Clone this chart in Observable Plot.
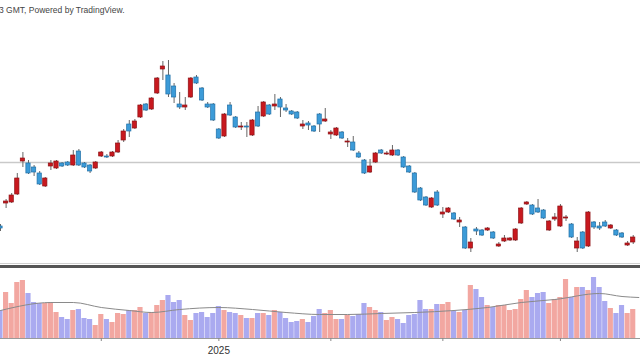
<!DOCTYPE html>
<html>
<head>
<meta charset="utf-8">
<script src="https://cdn.jsdelivr.net/npm/d3@7"></script>
<script src="https://cdn.jsdelivr.net/npm/@observablehq/plot@0.6"></script>
<style>
  html, body { margin: 0; padding: 0; background: #fff; }
  #wrap { position: relative; width: 640px; height: 360px; overflow: hidden; background: #fff; font-family: "Liberation Sans", Arial, sans-serif; }
  #credit { position: absolute; left: -1px; top: 5px; font-size: 8.5px; color: #444; white-space: nowrap; z-index: 2; }
  #price { position: absolute; left: 0; top: 0; }
  #sepLight { position: absolute; left: 0; top: 263px; width: 640px; height: 1px; background: #d0d0d0; }
  #sep { position: absolute; left: 0; top: 265px; width: 640px; height: 3px; background: #555; }
  #vol { position: absolute; left: 0; top: 266px; }
  svg { overflow: visible; }
</style>
</head>
<body>
<div id="wrap">
  <div id="price"></div>
  <div id="sepLight"></div>
  <div id="vol"></div>
  <div id="sep"></div>
  <div id="credit">3 GMT, Powered by TradingView.</div>
</div>
<script>
// Daily candles (Nov 2024 – Apr 2025), prices
const openP = [
  77.4,79.7,79.8,80.6,83.9,83.7,83.3,82.7,81.4,83.4,
  83.2,83.7,83.8,83.5,84.9,83.7,83.5,83.2,84.4,84.4,
  84.4,84.8,86.0,87.6,87.2,88.3,89.6,89.1,90.7,93.1,
  92.5,91.4,89.6,89.3,90.3,92.3,91.2,89.6,89.6,87.1,
  86.4,89.5,88.3,87.3,87.4,86.5,88.8,88.4,89.5,89.4,
  90.1,89.2,88.9,88.8,87.4,87.7,87.4,88.6,87.9,86.6,
  86.5,86.8,85.8,85.8,84.7,84.0,82.8,83.8,85.0,84.6,
  84.5,85.0,84.3,83.4,82.7,81.2,80.3,79.3,80.8,78.6,
  78.8,78.7,77.8,77.3,75.2,77.1,77.0,77.0,76.8,75.4,
  75.9,76.0,76.0,77.7,79.6,79.5,79.2,79.0,77.0,78.1,
  77.4,78.2,77.6,75.2,76.8,75.4,77.8,77.4,77.8,77.2,
  77.0,76.7,75.5,75.8
];
const highP = [
  77.6,80.1,80.7,82.7,84.8,84.0,83.5,82.9,82.3,84.0,
  84.0,83.8,83.9,85.0,85.1,83.8,83.6,83.9,84.9,84.6,
  84.9,86.0,87.1,88.0,88.1,89.6,89.7,90.3,92.3,93.9,
  94.0,91.7,90.8,90.3,92.3,92.5,91.3,89.8,89.7,87.2,
  88.7,89.8,88.4,87.8,87.8,88.1,89.4,89.9,89.6,90.6,
  90.3,89.6,89.0,88.9,88.0,87.9,87.5,88.7,89.2,87.0,
  87.3,86.9,86.2,86.4,84.9,84.1,84.1,84.8,85.1,84.9,
  85.5,85.1,84.4,83.5,82.8,81.3,80.4,80.3,81.0,79.3,
  79.3,78.8,78.3,77.4,76.2,77.3,77.1,77.3,76.9,75.8,
  76.5,76.3,77.2,79.3,79.9,79.6,80.1,79.1,78.0,78.7,
  79.6,78.5,77.7,76.3,76.9,78.9,77.9,77.8,78.0,77.6,
  77.1,76.8,75.9,76.5
];
const lowP = [
  76.9,79.2,79.7,80.5,83.3,82.6,82.4,81.5,81.3,83.0,
  83.1,83.3,83.4,83.4,83.4,83.2,82.7,83.1,84.3,84.2,
  84.3,84.7,85.8,86.3,87.1,88.2,88.9,89.0,90.6,92.0,
  90.3,89.7,89.1,89.0,90.2,91.6,89.9,89.2,87.9,86.1,
  86.3,88.4,87.2,87.0,86.3,86.4,87.3,88.3,88.5,89.0,
  88.3,88.8,88.5,88.1,87.1,87.0,86.8,86.8,87.8,86.1,
  86.4,86.1,85.3,84.9,84.2,82.6,82.7,83.7,84.6,84.5,
  84.4,84.4,83.2,82.7,80.7,79.9,79.4,79.2,79.4,78.2,
  78.7,78.0,77.3,75.1,74.8,76.5,76.4,76.9,76.1,75.3,
  75.8,75.9,75.9,77.6,79.5,78.5,78.7,78.1,76.9,77.9,
  77.3,77.9,76.2,74.8,75.1,75.3,77.1,77.0,77.3,77.1,
  76.4,76.2,75.4,75.6
];
const closeP = [
  77.2,79.9,80.5,82.2,84.2,82.7,82.8,81.6,82.2,83.7,
  83.9,83.4,83.5,84.5,83.5,83.3,82.9,83.8,84.8,84.3,
  84.8,85.7,86.9,86.9,87.9,89.5,89.0,90.2,92.2,93.4,
  90.6,90.3,89.3,89.5,92.2,91.7,90.0,89.3,88.0,86.2,
  88.6,88.5,87.3,87.4,87.3,88.0,87.4,89.8,88.6,89.6,
  89.3,89.0,88.6,88.2,87.6,87.5,86.9,87.6,88.1,86.8,
  87.2,86.2,85.9,85.0,84.3,82.7,83.4,84.7,84.7,84.7,
  85.0,84.5,83.3,82.8,80.8,80.0,79.5,80.2,79.5,78.8,
  79.2,78.1,78.0,75.2,75.8,76.9,76.5,77.2,76.2,75.6,
  76.2,76.2,77.1,79.2,79.8,78.6,78.8,78.2,77.9,78.3,
  79.4,78.3,76.3,75.9,75.2,78.8,77.3,77.2,77.4,77.5,
  76.5,76.3,75.7,76.3
];
// Volume (millions)
const volume = [
  2.8,4.6,3.5,5.6,5.8,4.5,3.6,3.5,3.5,3.6,
  2.6,2.1,1.9,2.8,2.9,2.0,1.9,1.3,2.4,1.9,
  1.6,2.5,2.4,2.8,2.8,3.1,2.5,2.6,3.3,3.8,
  4.3,3.6,3.8,2.3,1.8,2.5,2.6,2.1,2.5,3.2,
  2.8,2.6,2.5,2.3,2.0,2.0,2.5,2.5,2.3,2.8,
  2.6,2.0,1.6,1.7,1.9,1.6,2.2,2.9,2.5,2.8,
  1.9,1.9,2.3,2.2,2.4,3.5,3.1,2.8,2.6,1.8,
  2.1,1.9,1.5,2.3,2.4,3.8,2.9,2.9,3.4,3.4,
  3.6,2.7,2.6,2.8,5.3,4.9,4.1,3.3,3.1,3.3,
  3.3,2.8,2.9,3.9,4.8,4.1,4.5,4.6,3.5,3.9,
  4.1,5.9,4.1,5.1,5.1,4.8,6.1,5.1,3.7,3.0,
  2.5,3.3,2.5,2.9
];
// Volume moving average, read at selected sessions
const maIndex = [0, 9, 13, 18, 23, 27, 32, 39, 45, 51, 57, 62, 68, 74, 81, 87, 93, 99, 107, 111, 114];
const maValue = [2.8, 3.6, 3.6, 3.1, 2.8, 2.6, 2.9, 3.1, 2.9, 2.6, 2.4, 2.4, 2.5, 2.6, 2.8, 3.1, 3.6, 3.9, 4.5, 4.2, 4.1];
// Reference (previous close) line
const refPrice = [83.8];
// Time axis ticks (session index of month starts)
const tickIndex = [18, 39, 59, 79, 100];
const tickLabels = ["", "2025", "", "", ""];

const n = openP.length;
[highP, lowP, closeP, volume].forEach(a => { if (a.length !== n) throw new Error("length mismatch " + a.length + " vs " + n); });

const rows = openP.map((o, i) => ({
  i, o, h: highP[i], l: lowP[i], c: closeP[i], v: volume[i], up: closeP[i] >= o
}));
const maRows = maIndex.map((x, k) => ({x, y: maValue[k]}));

const xDomain = [0, 114.3];

const price = Plot.plot({
  width: 640, height: 266,
  marginTop: 0, marginBottom: 0, marginLeft: 0, marginRight: 0,
  x: {domain: xDomain, axis: null},
  y: {domain: [73.4, 100], axis: null},
  color: {type: "identity"},
  style: {background: "transparent"},
  marks: [
    Plot.ruleY(refPrice, {stroke: "#c9c9c9", strokeWidth: 1.5}),
    Plot.ruleX(rows, {x: "i", y1: "l", y2: "h", stroke: "#666", strokeWidth: 1}),
    Plot.rect(rows, {
      x1: d => d.i - 0.38, x2: d => d.i + 0.38,
      y1: d => Math.min(d.o, d.c), y2: d => Math.max(d.o, d.c),
      fill: d => d.up ? "#c8191f" : "#3c9bd8",
      stroke: d => d.up ? "#8e1216" : "#2171a8",
      strokeWidth: 0.7
    })
  ]
});
document.getElementById("price").appendChild(price);

const vol = Plot.plot({
  width: 640, height: 94,
  marginTop: 2, marginBottom: 22, marginLeft: 0, marginRight: 0,
  x: {domain: xDomain, label: null},
  y: {domain: [0, 7], axis: null},
  color: {type: "identity"},
  style: {background: "transparent", fontFamily: "Liberation Sans, Arial, sans-serif", fontSize: "10px", color: "#333"},
  marks: [
    Plot.rectY(rows, {
      x1: d => d.i - 0.46, x2: d => d.i + 0.46, y: "v",
      fill: d => d.up ? "#f2a7a1" : "#aaaaf0"
    }),
    Plot.line(maRows, {x: "x", y: "y", stroke: "#8a8a8a", strokeWidth: 1, curve: "monotone-x"}),
    Plot.ruleY([0], {stroke: "#9a9a9a"}),
    Plot.axisX({
      ticks: tickIndex,
      tickFormat: d => tickLabels[tickIndex.indexOf(d)] ?? "",
      tickSize: 3, tickPadding: 5, label: null,
      stroke: "#888", fill: "#333", fontSize: 10
    })
  ]
});
document.getElementById("vol").appendChild(vol);
</script>
</body>
</html>
